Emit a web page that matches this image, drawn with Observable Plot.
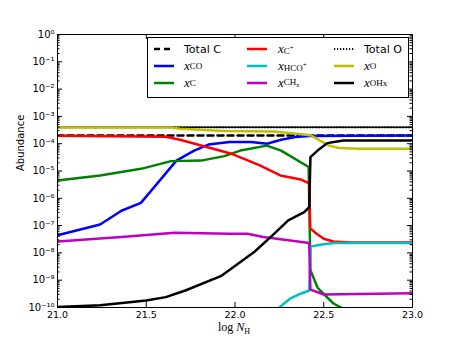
<!DOCTYPE html>
<html><head><meta charset="utf-8">
<script src="https://cdn.jsdelivr.net/npm/d3@7"></script>
<script src="https://cdn.jsdelivr.net/npm/@observablehq/plot@0.6"></script>
<style>
body{margin:0;background:#fff}
#wrap{position:relative;width:458px;height:343px;overflow:hidden}
#legend{position:absolute;left:147px;top:37px;width:260px;height:59px;border:1px solid #000;background:#fff;font-family:"DejaVu Sans";font-size:11px;color:#000}
.item{position:absolute;height:16px;display:flex;align-items:center;white-space:nowrap}
.item svg{position:absolute;left:0;top:0}
.lbl{position:absolute;top:0;height:16px;display:flex;align-items:center}
.m{font-family:"Liberation Serif";font-size:13px}
.m sub{font-size:9px;font-style:normal;vertical-align:-3px;line-height:0}
.m sup{font-size:7px;vertical-align:4px;line-height:0}
#xlabel{position:absolute;left:0;width:468px;text-align:center;top:320px;font-family:"Liberation Serif";font-size:12px}
#xlabel sub{font-size:8px;vertical-align:-3px;line-height:0}
</style></head>
<body><div id="wrap"></div>
<script>
// ---- data (log N_H, abundance) ----
const totalC_N = [21.0, 23.0];
const totalC_Y = [2.0e-4, 2.0e-4];

const co_N = [21.0, 21.24, 21.36, 21.47, 21.67, 21.77, 21.85, 21.97, 22.09, 22.18, 22.26, 22.34, 22.42, 23.0];
const co_Y = [4.4e-8, 1.1e-7, 3.5e-7, 6.8e-7, 2.4e-5, 5.6e-5, 9.3e-5, 1.15e-4, 1.15e-4, 1.0e-4, 1.4e-4, 1.75e-4, 1.9e-4, 2.0e-4];

const c_N = [21.0, 21.24, 21.47, 21.64, 21.81, 21.94, 22.03, 22.18, 22.26, 22.415, 22.425, 22.465, 22.48, 22.555, 22.61, 22.7, 23.0];
const c_Y = [4.5e-6, 6.9e-6, 1.2e-5, 2.3e-5, 2.4e-5, 3.5e-5, 5.6e-5, 8.5e-5, 5.6e-5, 1.4e-5, 2.3e-9, 5.4e-10, 4.2e-10, 1.4e-10, 9e-11, 5e-11, 2e-11];

const cp_N = [21.0, 21.61, 21.69, 21.975, 22.14, 22.255, 22.37, 22.418, 22.424, 22.46, 22.5, 22.555, 22.65, 23.0];
const cp_Y = [1.95e-4, 1.8e-4, 1.4e-4, 4.4e-5, 1.6e-5, 6.9e-6, 4.9e-6, 3.5e-6, 7.9e-8, 5.0e-8, 3.3e-8, 2.6e-8, 2.4e-8, 2.4e-8];

const hco_N = [22.24, 22.31, 22.37, 22.418, 22.426, 22.48, 22.555, 23.0];
const hco_Y = [9e-11, 2.1e-10, 3.2e-10, 4.2e-10, 1.7e-8, 2.0e-8, 2.3e-8, 2.3e-8];

const ch_N = [21.0, 21.36, 21.66, 21.97, 22.07, 22.16, 22.418, 22.425, 22.5, 23.0];
const ch_Y = [2.6e-8, 3.8e-8, 5.5e-8, 5.0e-8, 5.0e-8, 3.8e-8, 2.3e-8, 4.5e-10, 3.0e-10, 3.3e-10];

const totalO_N = [21.0, 23.0];
const totalO_Y = [4.0e-4, 4.0e-4];

const o_N = [21.0, 21.64, 21.69, 21.94, 22.22, 22.41, 22.43, 22.48, 22.53, 22.59, 22.7, 23.0];
const o_Y = [3.9e-4, 3.9e-4, 3.55e-4, 2.9e-4, 2.8e-4, 2.1e-4, 2.0e-4, 1.3e-4, 8.5e-5, 6.9e-5, 6.5e-5, 6.5e-5];

const oh_N = [21.0, 21.24, 21.5, 21.61, 21.72, 21.92, 22.11, 22.22, 22.30, 22.39, 22.418, 22.425, 22.465, 22.52, 22.61, 23.0];
const oh_Y = [1.05e-10, 1.2e-10, 1.8e-10, 2.4e-10, 4.2e-10, 1.4e-9, 1.1e-8, 5.0e-8, 1.55e-7, 3.1e-7, 4.7e-7, 3.2e-5, 5.6e-5, 1.05e-4, 1.3e-4, 1.3e-4];

const seriesKeys   = ["totalC", "co", "c", "cp", "hco", "ch", "totalO", "o", "oh"];
const seriesLabels = ["Total C", "<i>x</i><sub>CO</sub>", "<i>x</i><sub>C</sub>", "<i>x</i><sub>C<sup>+</sup></sub>", "<i>x</i><sub>HCO<sup>+</sup></sub>", "<i>x</i><sub>CH<sub style='font-size:6px;vertical-align:-2px'>x</sub></sub>", "Total O", "<i>x</i><sub>O</sub>", "<i>x</i><sub>OHx</sub>"];
const seriesColors = ["#000000", "#0000ff", "#008000", "#ff0000", "#00bfbf", "#bf00bf", "#000000", "#bfbf00", "#000000"];
const seriesDash   = ["6,4", null, null, null, null, null, "1.2,1.8", null, null];
const seriesWidth  = [2.5, 2.5, 2.5, 2.5, 2.5, 2.5, 2, 2.5, 2.5];
const seriesN = [totalC_N, co_N, c_N, cp_N, hco_N, ch_N, totalO_N, o_N, oh_N];
const seriesY = [totalC_Y, co_Y, c_Y, cp_Y, hco_Y, ch_Y, totalO_Y, o_Y, oh_Y];

const xTicks = [21.0, 21.5, 22.0, 22.5, 23.0];
const yTicks = [1, 1e-1, 1e-2, 1e-3, 1e-4, 1e-5, 1e-6, 1e-7, 1e-8, 1e-9, 1e-10];

// ---- chart ----
const W = 458, H = 343, mL = 57, mR = 46, mT = 34, mB = 36;
const fw = W - mL - mR, fh = H - mT - mB;
const supMap = {"-": "⁻", "0": "⁰", "1": "¹", "2": "²", "3": "³", "4": "⁴", "5": "⁵", "6": "⁶", "7": "⁷", "8": "⁸", "9": "⁹"};
const fmtY = d => "10" + String(Math.round(Math.log10(d))).split("").map(c => supMap[c]).join("");
const yMinor = [];
for (let k = -10; k < 0; k++) for (let m = 2; m <= 9; m++) yMinor.push(m * Math.pow(10, k));

const lineMarks = seriesKeys.map((k, i) =>
  Plot.line(seriesN[i].map((n, j) => ({n, v: seriesY[i][j]})), {
    x: "n", y: "v", stroke: seriesColors[i], strokeWidth: seriesWidth[i],
    strokeDasharray: seriesDash[i] || undefined, clip: true
  })
);

const chart = Plot.plot({
  width: W, height: H,
  marginLeft: mL, marginRight: mR, marginTop: mT, marginBottom: mB,
  style: {fontFamily: "DejaVu Sans", fontSize: "9.5px", background: "#fff", color: "#000"},
  x: {domain: [21, 23]},
  y: {type: "log", domain: [1e-10, 1]},
  marks: [
    ...lineMarks,
    Plot.tickY(yTicks, {y: d => d, insetRight: fw - 5, stroke: "#000"}),
    Plot.tickY(yTicks, {y: d => d, insetLeft: fw - 5, stroke: "#000"}),
    Plot.tickY(yMinor, {y: d => d, insetRight: fw - 2.5, stroke: "#000"}),
    Plot.tickY(yMinor, {y: d => d, insetLeft: fw - 2.5, stroke: "#000"}),
    Plot.tickX(xTicks, {x: d => d, insetTop: fh - 5, stroke: "#000"}),
    Plot.tickX(xTicks, {x: d => d, insetBottom: fh - 5, stroke: "#000"}),
    Plot.axisX({ticks: xTicks, tickFormat: d => d.toFixed(1), tickSize: 0, tickPadding: 4, label: null}),
    Plot.axisY({ticks: yTicks, tickFormat: fmtY, tickSize: 0, tickPadding: 3, label: null, fontSize: 10}),
    Plot.text(["Abundance"], {frameAnchor: "left", dx: -37, rotate: -90, text: d => d, fontSize: 10}),
    Plot.frame({stroke: "#000", strokeWidth: 1})
  ]
});

const wrap = document.getElementById("wrap");
wrap.appendChild(chart);

// legend (matplotlib column-major order)
const leg = document.createElement("div");
leg.id = "legend";
const colX = [6, 99, 186], colL = [36, 130, 216], rowY = [3, 20, 37];
seriesKeys.forEach((k, i) => {
  const col = Math.floor(i / 3), row = i % 3;
  const it = document.createElement("div");
  it.className = "item";
  it.style.left = colX[col] + "px";
  it.style.top = rowY[row] + "px";
  it.innerHTML = `<svg width="20" height="16"><line x1="0" x2="20" y1="8" y2="8" stroke="${seriesColors[i]}" stroke-width="${seriesWidth[i]}" ${seriesDash[i] ? `stroke-dasharray="${seriesDash[i]}"` : ""}/></svg>` +
    `<span class="lbl ${k.startsWith("total") ? "" : "m"}" style="left:${colL[col] - colX[col]}px">${seriesLabels[i]}</span>`;
  leg.appendChild(it);
});
wrap.appendChild(leg);

const xl = document.createElement("div");
xl.id = "xlabel";
xl.innerHTML = "log <i>N</i><sub>H</sub>";
wrap.appendChild(xl);
</script>
</body></html>
